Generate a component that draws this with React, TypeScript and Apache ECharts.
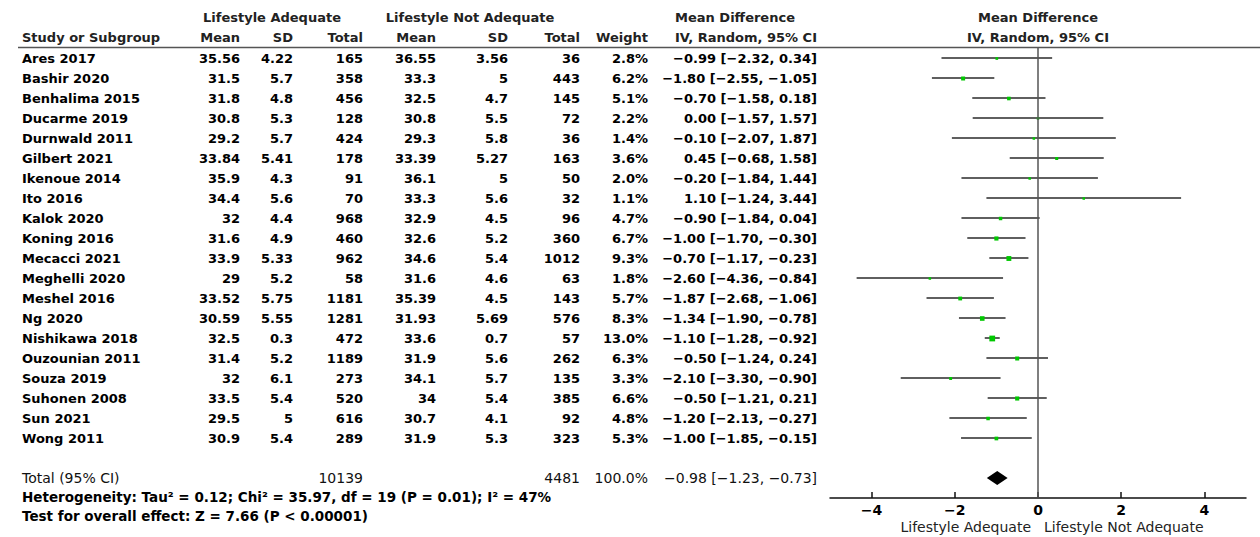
import React, { useEffect, useRef } from "react";
import * as echarts from "echarts";

const studies = ["Ares 2017", "Bashir 2020", "Benhalima 2015", "Ducarme 2019", "Durnwald 2011", "Gilbert 2021", "Ikenoue 2014", "Ito 2016", "Kalok 2020", "Koning 2016", "Mecacci 2021", "Meghelli 2020", "Meshel 2016", "Ng 2020", "Nishikawa 2018", "Ouzounian 2011", "Souza 2019", "Suhonen 2008", "Sun 2021", "Wong 2011"];
const adeqMean = [35.56, 31.5, 31.8, 30.8, 29.2, 33.84, 35.9, 34.4, 32, 31.6, 33.9, 29, 33.52, 30.59, 32.5, 31.4, 32, 33.5, 29.5, 30.9];
const adeqSD = [4.22, 5.7, 4.8, 5.3, 5.7, 5.41, 4.3, 5.6, 4.4, 4.9, 5.33, 5.2, 5.75, 5.55, 0.3, 5.2, 6.1, 5.4, 5, 5.4];
const adeqTotal = [165, 358, 456, 128, 424, 178, 91, 70, 968, 460, 962, 58, 1181, 1281, 472, 1189, 273, 520, 616, 289];
const notMean = [36.55, 33.3, 32.5, 30.8, 29.3, 33.39, 36.1, 33.3, 32.9, 32.6, 34.6, 31.6, 35.39, 31.93, 33.6, 31.9, 34.1, 34, 30.7, 31.9];
const notSD = [3.56, 5, 4.7, 5.5, 5.8, 5.27, 5, 5.6, 4.5, 5.2, 5.4, 4.6, 4.5, 5.69, 0.7, 5.6, 5.7, 5.4, 4.1, 5.3];
const notTotal = [36, 443, 145, 72, 36, 163, 50, 32, 96, 360, 1012, 63, 143, 576, 57, 262, 135, 385, 92, 323];
const weights = [2.8, 6.2, 5.1, 2.2, 1.4, 3.6, 2.0, 1.1, 4.7, 6.7, 9.3, 1.8, 5.7, 8.3, 13.0, 6.3, 3.3, 6.6, 4.8, 5.3];
const md = [-0.99, -1.8, -0.7, 0.0, -0.1, 0.45, -0.2, 1.1, -0.9, -1.0, -0.7, -2.6, -1.87, -1.34, -1.1, -0.5, -2.1, -0.5, -1.2, -1.0];
const ciLow = [-2.32, -2.55, -1.58, -1.57, -2.07, -0.68, -1.84, -1.24, -1.84, -1.7, -1.17, -4.36, -2.68, -1.9, -1.28, -1.24, -3.3, -1.21, -2.13, -1.85];
const ciHigh = [0.34, -1.05, 0.18, 1.57, 1.87, 1.58, 1.44, 3.44, 0.04, -0.3, -0.23, -0.84, -1.06, -0.78, -0.92, 0.24, -0.9, 0.21, -0.27, -0.15];

const totalLabel = "Total (95% CI)";
const totalAdeq = 10139;
const totalNot = 4481;
const totalWeight = 100.0;
const totalMD = -0.98;
const totalLow = -1.23;
const totalHigh = -0.73;

const xTicks = [-4, -2, 0, 2, 4];
const heterogeneityText = "Heterogeneity: Tau² = 0.12; Chi² = 35.97, df = 19 (P = 0.01); I² = 47%";
const overallText = "Test for overall effect: Z = 7.66 (P < 0.00001)";
const leftFavours = "Lifestyle Adequate";
const rightFavours = "Lifestyle Not Adequate";

const FONT = '"DejaVu Sans", Verdana, sans-serif';
const neg = (s: string) => s.replace(/-/g, "\u2212");
const f2 = (v: number) => neg(v.toFixed(2));
const ciText = (m: number, l: number, h: number) => `${f2(m)} [${f2(l)}, ${f2(h)}]`;

// column right edges (layout)
const COL = { name: 22, aMean: 240, aSD: 293, aTot: 363, nMean: 436, nSD: 508, nTot: 580, w: 648, ci: 817 };

function txt(x: number, y: number, text: string, align: string, opts: any = {}) {
  return {
    type: "text",
    x,
    y,
    silent: true,
    style: {
      text,
      align,
      verticalAlign: "middle",
      textAlign: align,
      textVerticalAlign: "middle",
      fontFamily: FONT,
      fontSize: opts.size || 13,
      fontWeight: opts.weight || "bold",
      fill: opts.fill || "#000",
    },
  };
}

export default function App() {
  const ref = useRef<HTMLDivElement>(null);
  useEffect(() => {
    document.body.style.margin = "0";
    const chart = echarts.init(ref.current!, null, { renderer: "svg" });

    const tableData = studies.map((_, i) => [0, i]);
    const forestData = studies.map((_, i) => [md[i], i, ciLow[i], ciHigh[i], weights[i]]);
    const hdr = { fill: "#222", weight: "bold" };

    const option: any = {
      animation: false,
      backgroundColor: "#fff",
      grid: { left: 830, right: 14, top: 48, bottom: 39, containLabel: false },
      xAxis: {
        type: "value",
        min: -5,
        max: 5,
        position: "bottom",
        axisLine: { show: true, onZero: false, lineStyle: { color: "#111", width: 1.5 } },
        axisTick: { show: true, inside: true, length: 6, customValues: xTicks, lineStyle: { color: "#111", width: 1.5 } },
        axisLabel: {
          customValues: xTicks,
          formatter: (v: number) => neg(String(v)),
          fontFamily: FONT,
          fontWeight: "bold",
          fontSize: 14,
          color: "#000",
          margin: 5,
        },
        splitLine: { show: false },
      },
      yAxis: { type: "value", inverse: true, min: -0.5, max: 22, show: false },
      series: [
        {
          type: "custom",
          name: "table",
          silent: true,
          clip: false,
          data: tableData,
          encode: { x: 0, y: 1 },
          renderItem: (params: any, api: any) => {
            const i = params.dataIndex;
            const y = api.coord([0, api.value(1)])[1];
            return {
              type: "group",
              children: [
                txt(COL.name, y, studies[i], "left"),
                txt(COL.aMean, y, String(adeqMean[i]), "right"),
                txt(COL.aSD, y, String(adeqSD[i]), "right"),
                txt(COL.aTot, y, String(adeqTotal[i]), "right"),
                txt(COL.nMean, y, String(notMean[i]), "right"),
                txt(COL.nSD, y, String(notSD[i]), "right"),
                txt(COL.nTot, y, String(notTotal[i]), "right"),
                txt(COL.w, y, weights[i].toFixed(1) + "%", "right"),
                txt(COL.ci, y, ciText(md[i], ciLow[i], ciHigh[i]), "right"),
              ],
            };
          },
        },
        {
          type: "custom",
          name: "total",
          silent: true,
          clip: false,
          data: [[0, 21]],
          encode: { x: 0, y: 1 },
          renderItem: (params: any, api: any) => {
            const y = api.coord([0, api.value(1)])[1];
            const o = { weight: "normal", size: 14, fill: "#111" };
            return {
              type: "group",
              children: [
                txt(COL.name, y, totalLabel, "left", o),
                txt(COL.aTot, y, String(totalAdeq), "right", o),
                txt(COL.nTot, y, String(totalNot), "right", o),
                txt(COL.w, y, totalWeight.toFixed(1) + "%", "right", o),
                txt(COL.ci, y, ciText(totalMD, totalLow, totalHigh), "right", o),
              ],
            };
          },
        },
        {
          type: "custom",
          name: "forest",
          silent: true,
          clip: false,
          data: forestData,
          encode: { x: [0, 2, 3], y: 1 },
          renderItem: (params: any, api: any) => {
            const row = api.value(1);
            const p0 = api.coord([api.value(2), row]);
            const p1 = api.coord([api.value(3), row]);
            const pc = api.coord([api.value(0), row]);
            const s = Math.max(2.5, 1.6 * Math.sqrt(api.value(4)));
            return {
              type: "group",
              children: [
                {
                  type: "line",
                  shape: { x1: p0[0], y1: p0[1], x2: p1[0], y2: p1[1] },
                  style: { stroke: "#2a2a2a", lineWidth: 1.5 },
                },
                {
                  type: "rect",
                  shape: { x: pc[0] - s / 2, y: pc[1] - s / 2 + 0.5, width: s, height: s },
                  style: { fill: "#00c800" },
                },
              ],
            };
          },
          markLine: {
            silent: true,
            symbol: "none",
            label: { show: false },
            lineStyle: { color: "#555", width: 1.5, type: "solid" },
            data: [{ xAxis: 0 }],
          },
        },
        {
          type: "custom",
          name: "diamond",
          silent: true,
          clip: false,
          data: [[totalMD, 21, totalLow, totalHigh]],
          encode: { x: [0, 2, 3], y: 1 },
          renderItem: (params: any, api: any) => {
            const row = api.value(1);
            const pl = api.coord([api.value(2), row]);
            const pr = api.coord([api.value(3), row]);
            const pc = api.coord([api.value(0), row]);
            const h = 7;
            return {
              type: "polygon",
              shape: { points: [[pl[0], pl[1]], [pc[0], pc[1] - h], [pr[0], pr[1]], [pc[0], pc[1] + h]] },
              style: { fill: "#000" },
            };
          },
        },
      ],
      graphic: [
        txt(272, 17, "Lifestyle Adequate", "center", hdr),
        txt(470, 17, "Lifestyle Not Adequate", "center", hdr),
        txt(735, 17, "Mean Difference", "center", hdr),
        txt(1038, 17, "Mean Difference", "center", hdr),
        txt(22, 37, "Study or Subgroup", "left", hdr),
        txt(COL.aMean, 37, "Mean", "right", hdr),
        txt(COL.aSD, 37, "SD", "right", hdr),
        txt(COL.aTot, 37, "Total", "right", hdr),
        txt(COL.nMean, 37, "Mean", "right", hdr),
        txt(COL.nSD, 37, "SD", "right", hdr),
        txt(COL.nTot, 37, "Total", "right", hdr),
        txt(COL.w, 37, "Weight", "right", hdr),
        txt(COL.ci, 37, "IV, Random, 95% CI", "right", hdr),
        txt(1038, 37, "IV, Random, 95% CI", "center", hdr),
        {
          type: "line",
          silent: true,
          shape: { x1: 18, y1: 47.5, x2: 1260, y2: 47.5 },
          style: { stroke: "#555", lineWidth: 1.5 },
        },
        txt(22, 497, heterogeneityText, "left", { weight: "bold", size: 13.5 }),
        txt(22, 516, overallText, "left", { weight: "bold", size: 13.5 }),
        txt(1031, 527, leftFavours, "right", { weight: "normal", size: 14, fill: "#222" }),
        txt(1044, 527, rightFavours, "left", { weight: "normal", size: 14, fill: "#222" }),
      ],
    };
    chart.setOption(option);
    return () => chart.dispose();
  }, []);
  return <div ref={ref} style={{ width: 1260, height: 537 }} />;
}
